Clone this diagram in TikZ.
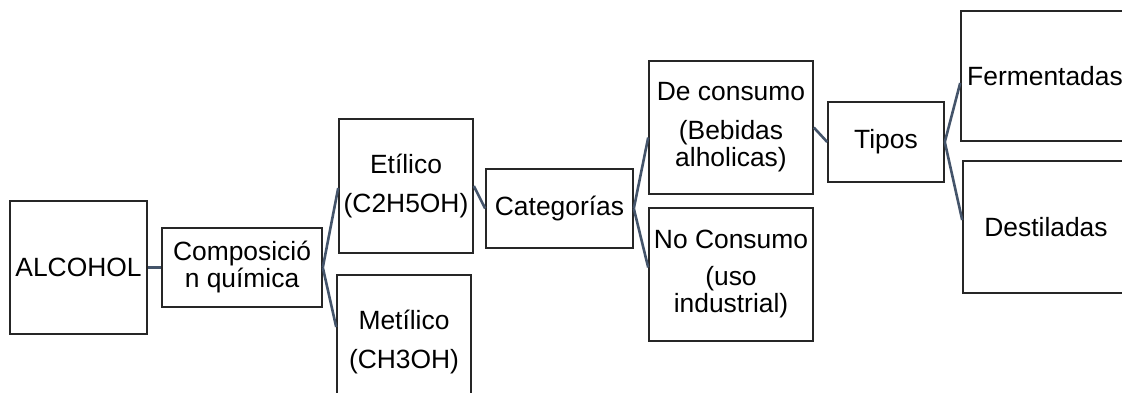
\documentclass[tikz,border=0pt]{standalone}
\usepackage{fontspec}
\setmainfont{Liberation Sans}
\definecolor{conn}{HTML}{44546A}
\definecolor{boxline}{HTML}{262626}
\begin{document}
\begin{tikzpicture}[x=1pt,y=-1pt,
  box/.style={draw=boxline,line width=1.6pt,rectangle,inner sep=0pt,align=center,
    font=\fontsize{26.4}{27}\selectfont},
  link/.style={draw=conn,line width=2.6pt}]
\clip (0,0) rectangle (1122,392);
\useasboundingbox (0,0) rectangle (1122,392);
\node[box,minimum width=137pt,minimum height=133pt] (alc) at (78.5,267.5) {ALCOHOL};
\node[box,minimum width=160pt,minimum height=79pt] (comp) at (242,267.5) {Composició\\n química};
\node[box,minimum width=134pt,minimum height=134pt] (etil) at (406,186) {Etílico\\[12pt](C2H5OH)};
\node[box,minimum width=134pt,minimum height=134pt] (metil) at (404,342) {Metílico\\[12pt](CH3OH)};
\node[box,minimum width=147pt,minimum height=79pt] (cat) at (559.5,208.5) {Categorías};
\node[box,minimum width=164pt,minimum height=133pt] (dec) at (731,127.5) {De consumo\\[12pt](Bebidas\\alholicas)};
\node[box,minimum width=164pt,minimum height=133pt] (noc) at (731,274.5) {No Consumo\\[10pt](uso\\industrial)};
\node[box,minimum width=116pt,minimum height=80pt] (tipos) at (886,142) {Tipos};
\node[box,minimum width=168pt,minimum height=130pt] (ferm) at (1045,76) {Fermentadas};
\node[box,minimum width=166pt,minimum height=132pt] (dest) at (1046,227) {Destiladas};
\draw[link,line width=3.4pt] (alc.east) -- (comp.west);
\draw[link] (comp.east) -- ([yshift=-2pt]etil.west);
\draw[link] (comp.east) -- ([yshift=15pt]metil.west);
\draw[link] (etil.east) -- (cat.west);
\draw[link] (cat.east) -- ([yshift=-10pt]dec.west);
\draw[link] (cat.east) -- ([yshift=7pt]noc.west);
\draw[link] (dec.east) -- (tipos.west);
\draw[link] (tipos.east) -- ([yshift=-7pt]ferm.west);
\draw[link] (tipos.east) -- ([yshift=7pt]dest.west);
\end{tikzpicture}
\end{document}
